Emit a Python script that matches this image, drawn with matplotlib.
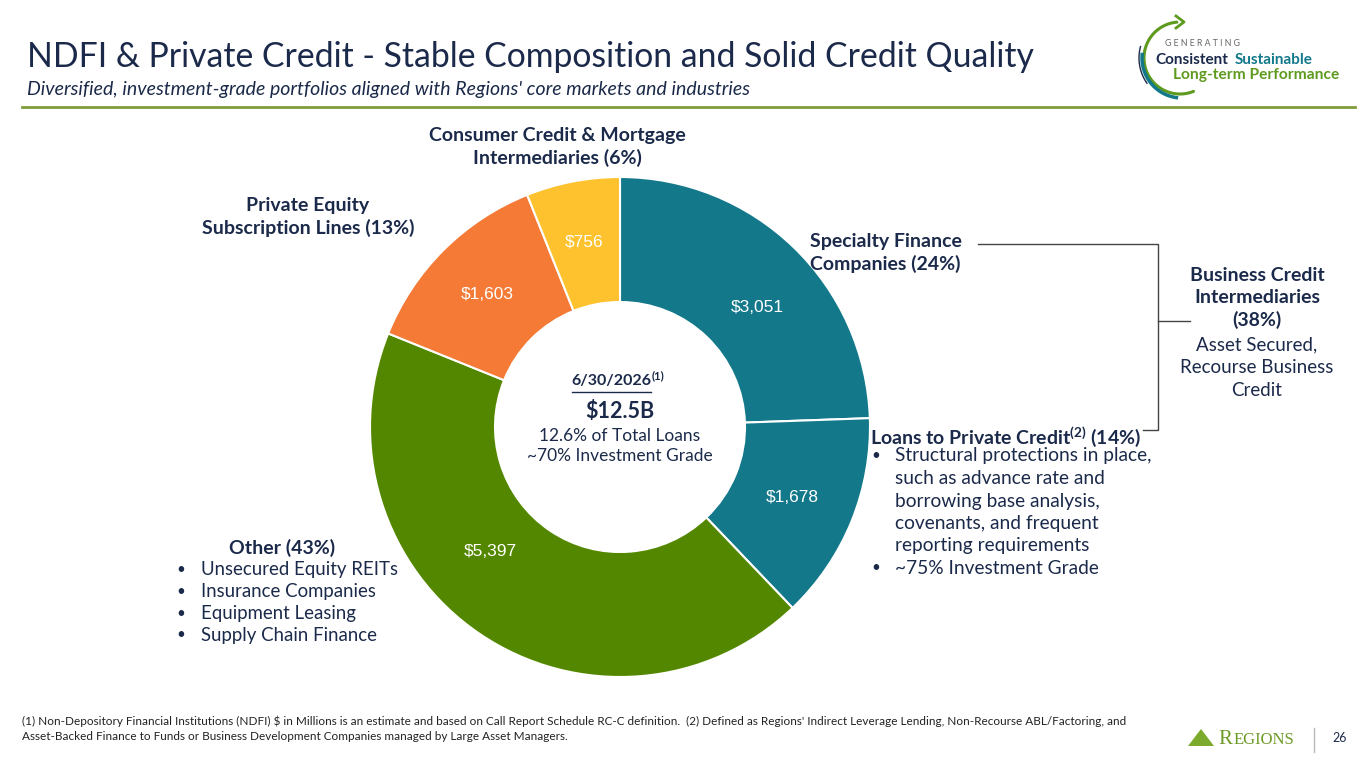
import numpy as np
import matplotlib
matplotlib.use("Agg")
from matplotlib import pyplot as plt

plt.rcParams['font.family'] = ['Lato', 'DejaVu Sans']
plt.rcParams['mathtext.fontset'] = 'custom'
plt.rcParams['mathtext.rm'] = 'Lato'
plt.rcParams['mathtext.bf'] = 'Lato:bold'

# data ($ in millions), clockwise from 12 o'clock
segments = ['Specialty Finance Companies', 'Loans to Private Credit', 'Other',
            'Private Equity Subscription Lines', 'Consumer Credit & Mortgage Intermediaries']
values = [3051, 1678, 5397, 1603, 756]
colors = ['#13788A', '#13788A', '#548700', '#F47A36', '#FDC22E']
value_labels = ['$3,051', '$1,678', '$5,397', '$1,603', '$756']

# label placement tweaks (deg nudge from wedge middle, radius)
label_nudge = [-5, 0, -12, 0, 0]
label_rad = [0.726, 0.744, 0.72, 0.75, 0.755]

NAVY = '#1B2A4A'
W, H = 1365, 768
fig = plt.figure(figsize=(W / 100, H / 100), dpi=100)


def txt(x, y, s, **kw):
    kw.setdefault('color', NAVY)
    kw.setdefault('va', 'center')
    fig.text(x / W, 1 - y / H, s, **kw)


# overlay axes in pixel coords for rules / connectors / logos
ov = fig.add_axes([0, 0, 1, 1])
ov.set_xlim(0, W)
ov.set_ylim(H, 0)
ov.axis('off')

# donut
ax = fig.add_axes([370 / W, (H - 677) / H, 500 / W, 500 / H])
wedges, _ = ax.pie(values, colors=colors, startangle=90, counterclock=False,
                   radius=1, wedgeprops=dict(width=0.5, edgecolor='white', linewidth=1.5))
ax.set_xlim(-1, 1)
ax.set_ylim(-1, 1)
ax.set_aspect('equal')
ax.axis('off')
for w, lab, dn, r in zip(wedges, value_labels, label_nudge, label_rad):
    ang = np.deg2rad((w.theta1 + w.theta2) / 2 + dn)
    ax.text(r * np.cos(ang), r * np.sin(ang), lab, ha='center', va='center',
            color='white', fontsize=12.5, family='Liberation Sans')

# title block
txt(27, 57, 'NDFI & Private Credit - Stable Composition and Solid Credit Quality',
    fontsize=24.3, ha='left')
txt(27, 90, "Diversified, investment-grade portfolios aligned with Regions' core markets and industries",
    fontsize=14, style='italic', ha='left')
ov.plot([22, 1355], [107, 107], color='#7E9D3A', lw=2)

# top-right "Generating" logo
t = np.deg2rad(np.linspace(95, 292, 80))
ov.plot(1180 + 36 * np.cos(t), 58 - 36 * np.sin(t), color='#5E9A1E', lw=2.2, solid_capstyle='round')
ov.plot([1176, 1184, 1176], [16, 22, 28], color='#5E9A1E', lw=2)
t = np.deg2rad(np.linspace(175, 262, 50))
ov.plot(1182 + 40 * np.cos(t), 58 - 40 * np.sin(t), color='#13788A', lw=2.5)
t = np.deg2rad(np.linspace(165, 215, 40))
ov.plot(1183 + 44 * np.cos(t), 58 - 44 * np.sin(t), color=NAVY, lw=1)
txt(1165, 44, 'G E N E R A T I N G', fontsize=6.3, color='#666666', ha='left')
txt(1155, 60, 'Consistent', fontsize=11, weight='bold', ha='left')
txt(1235, 60, 'Sustainable', fontsize=11, weight='bold', color='#13788A', ha='left')
txt(1173, 75, 'Long-term Performance', fontsize=11.2, weight='bold', color='#5E9A1E', ha='left')

# segment labels
LS = 22.5
BF = 14
for i, s in enumerate(['Consumer Credit & Mortgage', 'Intermediaries (6%)']):
    txt(557, 135 + i * LS, s, fontsize=BF, weight='bold', ha='center')
for i, s in enumerate(['Private Equity', 'Subscription Lines (13%)']):
    txt(308, 205 + i * LS, s, fontsize=BF, weight='bold', ha='center')
for i, s in enumerate(['Specialty Finance', 'Companies (24%)']):
    txt(810, 241 + i * LS, s, fontsize=BF, weight='bold', ha='left')

# bracket connecting specialty finance + loans to private credit
ov.plot([978, 1158, 1158, 1143], [244, 244, 430, 430], color='#444444', lw=1)
ov.plot([1158, 1190], [321, 321], color='#444444', lw=1)
for i, s in enumerate(['Business Credit', 'Intermediaries', '(38%)']):
    txt(1257, 275 + i * LS, s, fontsize=BF, weight='bold', ha='center')
for i, s in enumerate(['Asset Secured,', 'Recourse Business', 'Credit']):
    txt(1257, 345 + i * LS, s, fontsize=13.5, ha='center')

txt(870, 437, r'Loans to Private Credit$^{\mathbf{(2)}}$ (14%)', fontsize=BF, weight='bold', ha='left')
loans_lines = ['Structural protections in place,', 'such as advance rate and',
               'borrowing base analysis,', 'covenants, and frequent',
               'reporting requirements', '~75% Investment Grade']
for i, s in enumerate(loans_lines):
    y = 456 + i * LS
    if i in (0, 5):
        txt(871, y, '\u2022', fontsize=11, ha='left')
    txt(895, y, s, fontsize=13.8, ha='left')

txt(282, 548, 'Other (43%)', fontsize=BF, weight='bold', ha='center')
other_lines = ['Unsecured Equity REITs', 'Insurance Companies',
               'Equipment Leasing', 'Supply Chain Finance']
for i, s in enumerate(other_lines):
    y = 570 + i * 21.8
    txt(176, y, '\u2022', fontsize=11, ha='left')
    txt(201, y, s, fontsize=13.4, ha='left')

# donut centre
txt(651, 381, '6/30/2026', fontsize=11.5, weight='bold', ha='right')
txt(652, 376, '(1)', fontsize=8, weight='bold', ha='left')
ov.plot([572, 651], [391.5, 391.5], color=NAVY, lw=1)
txt(620, 411, '$12.5B', fontsize=15.5, weight='bold', ha='center')
txt(620, 436, '12.6% of Total Loans', fontsize=12.5, ha='center')
txt(620, 456, '~70% Investment Grade', fontsize=12.5, ha='center')

# footnotes
txt(22, 721, "(1) Non-Depository Financial Institutions (NDFI) $ in Millions is an estimate and based on Call Report "
    "Schedule RC-C definition.  (2) Defined as Regions' Indirect Leverage Lending, Non-Recourse ABL/Factoring, and",
    fontsize=8.5, color='#222222', ha='left')
txt(22, 737, 'Asset-Backed Finance to Funds or Business Development Companies managed by Large Asset Managers.',
    fontsize=8.5, color='#222222', ha='left')

# bottom-right Regions logo + page number
ov.fill([1188, 1201, 1214], [746, 729, 746], color='#7BAA2C', lw=0)
txt(1218, 739, 'R', fontsize=15, family='Liberation Serif', color='#6E9A28', ha='left')
txt(1234, 740.5, 'EGIONS', fontsize=12, family='Liberation Serif', color='#6E9A28', ha='left')
ov.plot([1314, 1314], [728, 752], color='#BBBBBB', lw=1)
txt(1340, 738, '26', fontsize=9, color=NAVY, ha='center')

fig.savefig('out.png', dpi=100)
